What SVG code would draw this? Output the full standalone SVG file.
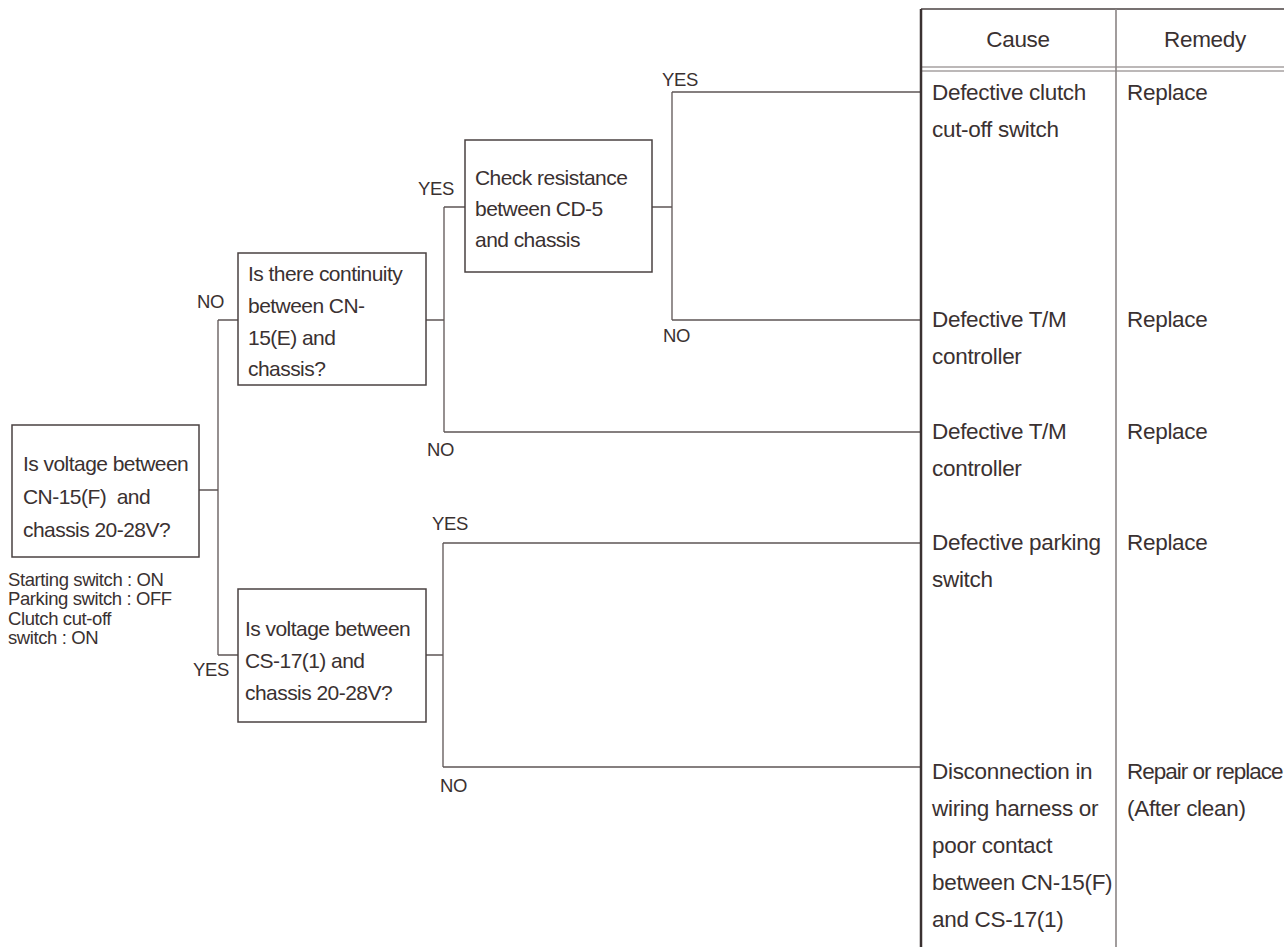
<svg xmlns="http://www.w3.org/2000/svg" width="1284" height="947" viewBox="0 0 1284 947">
<style>
text{font-family:"Liberation Sans",Arial,sans-serif;fill:#3a3131}
.bt{font-size:21px;letter-spacing:-0.55px}
.tt{font-size:22.5px;letter-spacing:-0.3px}
.lb{font-size:18.5px;letter-spacing:-0.3px}
.sm{font-size:18.5px;letter-spacing:-0.4px}
.box{fill:#fff;stroke:#4a4242;stroke-width:1.5}
.cn{fill:none;stroke:#5e5555;stroke-width:1.3}
</style>
<rect width="1284" height="947" fill="#fff"/>
<g id="connectors">
<path class="cn" d="M199 490H218M218 320V655M218 320H238M218 655H238"/>
<path class="cn" d="M426 320H444M444 207V432M444 207H465M444 432H921"/>
<path class="cn" d="M652 207H672M672 92V320M672 92H921M672 320H921"/>
<path class="cn" d="M426 655H443M443 543V767M443 543H921M443 767H921"/>
</g>
<g id="labels">
<text class="lb" x="197" y="308">NO</text>
<text class="lb" x="193" y="676">YES</text>
<text class="lb" x="418" y="195">YES</text>
<text class="lb" x="427" y="456">NO</text>
<text class="lb" x="662" y="86">YES</text>
<text class="lb" x="663" y="342">NO</text>
<text class="lb" x="432" y="530">YES</text>
<text class="lb" x="440" y="792">NO</text>
</g>
<g id="n1">
<rect class="box" x="12" y="425" width="187" height="132"/>
<text class="bt" x="23" y="471">Is voltage between</text>
<text class="bt" x="23" y="504">CN-15(F)&#160; and</text>
<text class="bt" x="23" y="537">chassis 20-28V?</text>
</g>
<g id="n1note">
<text class="sm" x="8" y="586">Starting switch : ON</text>
<text class="sm" x="8" y="605">Parking switch : OFF</text>
<text class="sm" x="8" y="625">Clutch cut-off</text>
<text class="sm" x="8" y="644">switch : ON</text>
</g>
<g id="n2">
<rect class="box" x="238" y="253" width="188" height="132"/>
<text class="bt" x="248" y="281">Is there continuity</text>
<text class="bt" x="248" y="313">between CN-</text>
<text class="bt" x="248" y="345">15(E) and</text>
<text class="bt" x="248" y="376">chassis?</text>
</g>
<g id="n3">
<rect class="box" x="238" y="589" width="188" height="133"/>
<text class="bt" x="245" y="636">Is voltage between</text>
<text class="bt" x="245" y="668">CS-17(1) and</text>
<text class="bt" x="245" y="700">chassis 20-28V?</text>
</g>
<g id="n4">
<rect class="box" x="465" y="140" width="187" height="132"/>
<text class="bt" x="475" y="185">Check resistance</text>
<text class="bt" x="475" y="216">between CD-5</text>
<text class="bt" x="475" y="247">and chassis</text>
</g>
<g id="table">
<path d="M921 9H1290" stroke="#4a4242" stroke-width="1.5" fill="none"/>
<path d="M921 67H1290M921 71H1290" stroke="#7a7373" stroke-width="1.2" fill="none"/>
<path d="M1116 9V947" stroke="#8a8484" stroke-width="1.6" fill="none"/>
<path d="M921 9V947" stroke="#3a3131" stroke-width="2.5" fill="none"/>
<text class="tt" x="1018" y="47" text-anchor="middle">Cause</text>
<text class="tt" x="1205" y="47" text-anchor="middle">Remedy</text>
</g>
<g id="r1">
<text class="tt" x="932" y="100">Defective clutch</text>
<text class="tt" x="932" y="137">cut-off switch</text>
<text class="tt" x="1127" y="100">Replace</text>
</g>
<g id="r2">
<text class="tt" x="932" y="327">Defective T/M</text>
<text class="tt" x="932" y="364">controller</text>
<text class="tt" x="1127" y="327">Replace</text>
</g>
<g id="r3">
<text class="tt" x="932" y="439">Defective T/M</text>
<text class="tt" x="932" y="476">controller</text>
<text class="tt" x="1127" y="439">Replace</text>
</g>
<g id="r4">
<text class="tt" x="932" y="550">Defective parking</text>
<text class="tt" x="932" y="587">switch</text>
<text class="tt" x="1127" y="550">Replace</text>
</g>
<g id="r5">
<text class="tt" x="932" y="779">Disconnection in</text>
<text class="tt" x="932" y="816">wiring harness or</text>
<text class="tt" x="932" y="853">poor contact</text>
<text class="tt" x="932" y="890">between CN-15(F)</text>
<text class="tt" x="932" y="927">and CS-17(1)</text>
<text class="tt" x="1127" y="779" style="letter-spacing:-1px">Repair or replace</text>
<text class="tt" x="1127" y="816">(After clean)</text>
</g>
</svg>
